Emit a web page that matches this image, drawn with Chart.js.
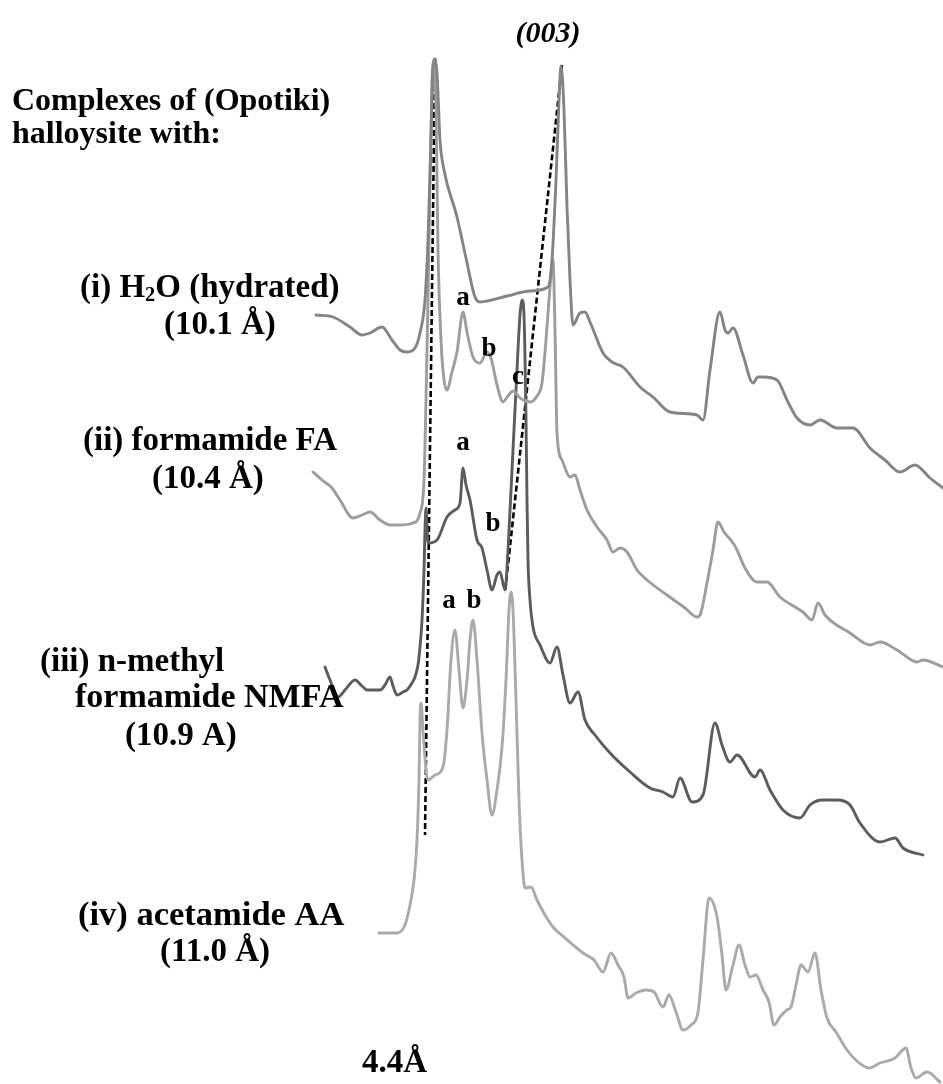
<!DOCTYPE html>
<html>
<head>
<meta charset="utf-8">
<script src="https://cdn.jsdelivr.net/npm/chart.js@4.4.1/dist/chart.umd.min.js"></script>
<style>
  html, body { margin: 0; padding: 0; background: #ffffff; }
  #wrap { width: 943px; height: 1084px; position: relative; }
</style>
</head>
<body>
<div id="wrap"><canvas id="xrd"></canvas></div>
<script>
// X-ray diffraction traces of Opotiki halloysite complexes.
// x: 2θ (degrees, Cu Kα); y: intensity above each trace's own baseline (arbitrary units).

// (i) H2O (hydrated), 10.1 Å
const h2oTheta = [14.15,15.0,15.85,16.45,16.85,17.45,17.95,18.35,18.7,19.1,19.35,19.6,19.75,19.9,20.0,20.1,20.2,20.35,20.55,21.2,21.65,22.1,22.35,23.7,24.85,25.75,25.95,26.15,26.3,26.4,26.55,26.7,26.85,27.0,27.35,27.6,27.85,28.5,28.95,29.5,30.35,31.0,31.85,33.2,33.5,33.85,34.35,34.6,34.75,35.0,35.5,36.0,36.25,36.5,37.2,37.7,38.2,38.85,39.35,40.2,41.0,41.85,42.6,43.35,44.1,44.85,45.5];
const h2oCounts = [185,183,173,165,167,173,160,150,148,152,167,200,260,360,433,441,427,360,330,283,242,203,198,204,209,213,240,320,400,434,390,293,220,175,187,188,178,147,138,133,113,103,88,85,80,130,188,170,167,172,145,117,123,123,120,100,82,75,80,72,72,52,40,28,35,22,12];

// (ii) formamide FA, 10.4 Å
const faTheta = [14.0,14.45,14.95,15.35,16.0,16.45,16.85,17.35,17.85,18.35,19.0,19.35,19.55,19.65,19.75,19.85,19.95,20.05,20.15,20.25,20.4,20.55,20.7,20.95,21.2,21.5,21.7,22.0,22.35,22.7,22.9,23.2,23.5,23.75,24.0,24.35,24.85,25.2,25.45,25.65,25.8,26.0,26.1,26.2,26.45,26.85,27.1,27.35,27.7,28.2,28.7,29.0,29.35,29.7,30.2,30.7,31.7,32.6,33.2,33.35,33.7,34.0,34.25,34.55,35.0,35.2,35.6,36.2,36.7,37.35,38.5,38.95,39.25,39.6,40.85,41.85,42.35,43.2,44.2,44.5,45.5];
const faCounts = [228,220,212,200,182,185,188,180,175,175,177,187,220,300,400,520,620,638,590,450,360,320,310,328,348,388,368,343,337,348,342,315,298,304,309,302,298,304,317,360,400,440,370,267,240,223,225,210,190,173,160,148,152,148,130,120,105,92,83,85,117,150,178,168,157,150,132,118,118,103,88,80,97,85,67,55,58,50,38,40,33];

// (iii) n-methyl formamide NMFA, 10.9 Å
const nmfaTheta = [14.6,14.85,15.25,15.6,16.1,16.45,16.7,17.35,17.6,17.85,18.0,18.2,18.5,18.7,18.95,19.1,19.25,19.35,19.45,19.55,19.6,19.65,19.75,20.2,20.7,21.1,21.35,21.5,21.65,21.85,22.2,22.45,22.7,22.95,23.2,23.35,23.6,23.75,23.95,24.15,24.35,24.45,24.55,24.65,24.7,24.75,24.85,25.0,25.35,25.85,26.2,26.5,26.85,27.25,27.6,28.1,28.85,29.85,30.85,31.5,32.0,32.35,32.95,33.5,34.1,34.45,34.85,35.2,36.1,36.35,36.85,37.5,38.35,38.85,39.5,40.2,40.85,41.35,42.35,43.1,43.5,44.5];
const nmfaCounts = [203,190,173,180,190,184,180,180,185,193,184,175,178,180,187,193,205,223,250,300,340,362,327,330,353,360,367,402,385,370,330,322,300,280,295,298,280,320,400,480,555,570,555,450,370,310,270,243,225,207,223,195,167,178,150,135,117,98,82,78,73,92,68,75,147,125,108,115,93,100,80,60,52,65,70,70,65,47,28,32,22,15];

// (iv) acetamide AA, 11.0 Å
const aaTheta = [17.3,18.2,18.6,18.85,19.05,19.2,19.3,19.35,19.4,19.5,19.65,19.75,20.1,20.5,20.7,20.9,21.1,21.3,21.5,21.7,21.85,22.0,22.2,22.45,22.7,22.95,23.2,23.45,23.65,23.8,23.9,24.0,24.15,24.3,24.45,24.6,24.9,25.2,25.6,26.0,26.6,27.5,28.05,28.5,28.9,29.25,29.55,29.75,30.15,30.65,31.05,31.5,31.8,32.15,32.5,32.9,33.25,33.5,33.8,34.2,34.45,34.65,35.0,35.3,35.6,35.85,36.15,36.5,36.8,37.05,37.35,37.7,37.9,38.15,38.4,38.75,39.1,39.4,39.7,40.15,40.7,41.25,41.8,42.35,43.1,43.65,43.9,44.15,44.7,45.35];
const aaCounts = [151,151,159,179,204,244,304,364,381,354,314,304,309,317,354,424,454,414,376,404,444,464,424,351,304,269,294,337,404,474,492,474,384,284,224,196,197,184,169,157,146,131,124,112,131,119,107,86,91,94,92,77,89,72,54,59,72,124,186,167,129,94,119,139,119,107,109,94,82,59,67,74,77,99,119,112,131,94,66,52,34,22,16,21,26,36,16,6,12,2];

// vertical stacking of the four traces and their line colours
const traceOffsets = [584, 384, 214, 0];
const traceColors = ['#848484', '#9d9d9d', '#5c5c5c', '#aaaaaa'];

// guide lines: 4.4 Å reflection and the shifting (003) reflection
const guide44Theta = [20.1, 19.6];
const guide44Counts = [1026, 249];
const guide003Theta = [26.45, 23.6];
const guide003Counts = [1019, 491];

// peak letters (2θ, stacked intensity)
const peakLetters = ['a', 'b', 'c', 'a', 'b', 'a', 'b'];
const letterTheta = [21.5, 22.8, 24.25, 21.5, 23.0, 20.8, 22.05];
const letterCounts = [786, 735, 707, 641, 560, 483, 483];

function pairs(xs, ys, off) {
  return xs.map((x, i) => ({ x: x, y: ys[i] + off }));
}

const traces = [
  [h2oTheta, h2oCounts],
  [faTheta, faCounts],
  [nmfaTheta, nmfaCounts],
  [aaTheta, aaCounts]
].map((t, i) => ({
  data: pairs(t[0], t[1], traceOffsets[i]),
  borderColor: traceColors[i],
  borderWidth: 2.9,
  pointRadius: 0,
  cubicInterpolationMode: 'monotone',
  borderJoinStyle: 'round',
  borderCapStyle: 'round',
  fill: false
}));

const guides = [[guide44Theta, guide44Counts], [guide003Theta, guide003Counts]].map(g => ({
  data: pairs(g[0], g[1], 0),
  borderColor: '#000000',
  borderWidth: 2.6,
  borderDash: [6, 3],
  pointRadius: 0,
  tension: 0,
  fill: false
}));

// text drawn on the canvas: sample labels, headings and peak letters
const SERIF = '"Liberation Serif", "Times New Roman", serif';

function drawRich(ctx, parts, x, y, size) {
  let cx = x;
  parts.forEach(p => {
    const s = p.sub ? size * 0.62 : size;
    ctx.font = 'bold ' + s + 'px ' + SERIF;
    ctx.fillText(p.t, cx, y + (p.sub ? size * 0.12 : 0));
    cx += ctx.measureText(p.t).width;
  });
}

const textPlugin = {
  id: 'xrdText',
  afterDatasetsDraw(chart) {
    const ctx = chart.ctx;
    const xs = chart.scales.x, ys = chart.scales.y;
    ctx.save();
    ctx.fillStyle = '#000000';
    ctx.textAlign = 'left';
    ctx.textBaseline = 'alphabetic';

    ctx.font = 'bold 32px ' + SERIF;
    ctx.fillText('Complexes of (Opotiki)', 12, 110);
    ctx.fillText('halloysite with:', 12, 143);

    const L = 33;
    drawRich(ctx, [{ t: '(i) H' }, { t: '2', sub: true }, { t: 'O (hydrated)' }], 80, 297, L);
    drawRich(ctx, [{ t: '(10.1 Å)' }], 164, 334, L);
    drawRich(ctx, [{ t: '(ii) formamide FA' }], 83, 450, L);
    drawRich(ctx, [{ t: '(10.4 Å)' }], 152, 488, L);
    drawRich(ctx, [{ t: '(iii) n-methyl' }], 40, 671, L);
    drawRich(ctx, [{ t: 'formamide NMFA' }], 75, 707, 34);
    drawRich(ctx, [{ t: '(10.9 A)' }], 125, 745, L);
    drawRich(ctx, [{ t: '(iv) acetamide AA' }], 78, 925, 34.5);
    drawRich(ctx, [{ t: '(11.0 Å)' }], 160, 961, L);
    drawRich(ctx, [{ t: '4.4Å' }], 362, 1072, L);

    ctx.textAlign = 'center';
    ctx.font = 'italic bold 30px ' + SERIF;
    ctx.fillText('(003)', 548, 42);

    ctx.font = 'bold 27px ' + SERIF;
    ctx.textBaseline = 'middle';
    peakLetters.forEach((t, i) => {
      ctx.fillText(t, xs.getPixelForValue(letterTheta[i]), ys.getPixelForValue(letterCounts[i]));
    });
    ctx.restore();
  }
};

new Chart(document.getElementById('xrd'), {
  type: 'line',
  data: { datasets: traces.concat(guides) },
  options: {
    responsive: true,
    maintainAspectRatio: false,
    animation: false,
    devicePixelRatio: 1,
    layout: { padding: 0 },
    plugins: { legend: { display: false }, tooltip: { enabled: false } },
    scales: {
      x: { type: 'linear', min: -1.65, max: 45.5, display: false },
      y: { type: 'linear', min: 0, max: 1084, display: false }
    }
  },
  plugins: [textPlugin]
});
</script>
</body>
</html>
